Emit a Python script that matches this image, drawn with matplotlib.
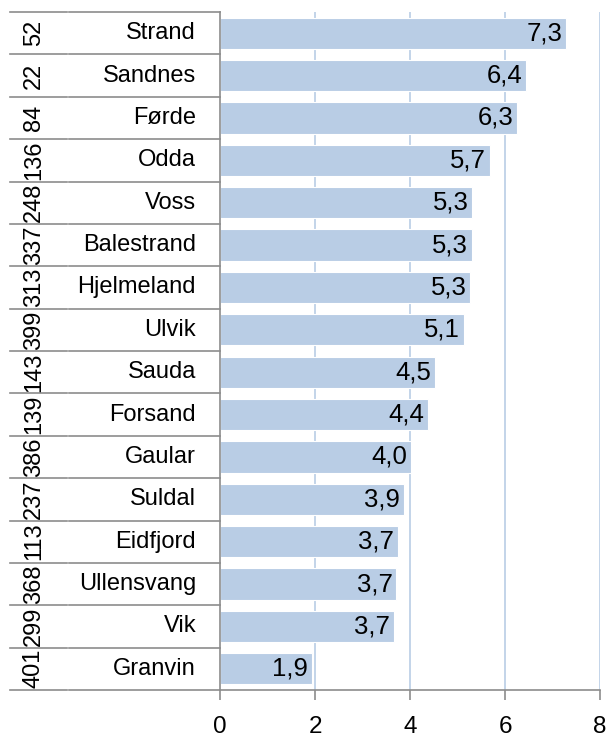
import numpy as np
import matplotlib
matplotlib.use("Agg")
import matplotlib.pyplot as plt
import matplotlib.transforms as mtransforms

names = ["Strand", "Sandnes", "Førde", "Odda", "Voss", "Balestrand", "Hjelmeland",
         "Ulvik", "Sauda", "Forsand", "Gaular", "Suldal", "Eidfjord", "Ullensvang",
         "Vik", "Granvin"]
codes = ["52", "22", "84", "136", "248", "337", "313", "399", "143", "139", "386",
         "237", "113", "368", "299", "401"]
values = [7.28, 6.44, 6.26, 5.68, 5.31, 5.30, 5.27, 5.13, 4.52, 4.38, 4.02, 3.87,
          3.74, 3.71, 3.66, 1.94]
xticks = [0, 2, 4, 6, 8]

bar_col = "#b9cde5"
grey = "#8c8c8c"

plt.rcParams['font.family'] = ['Liberation Sans', 'DejaVu Sans']
fig = plt.figure(figsize=(6.09, 7.40), dpi=100)
ax = fig.add_axes([220/609, 50/740, 380/609, 678/740])

y = np.arange(len(names))
ax.barh(y, values, height=0.74, color=bar_col, edgecolor="white", linewidth=0.8, zorder=2)
for yi, v in zip(y, values):
    ax.text(v - 0.08, yi, f"{v:.1f}".replace(".", ","), ha="right", va="center",
            fontsize=18.5, color="black", zorder=3)

ax.set_xlim(0, 8)
ax.set_ylim(len(names) - 0.5, -0.5)
ax.set_xticks(xticks)
ax.set_xticklabels([str(t) for t in xticks], fontsize=17.5)
ax.set_yticks([])
for t in xticks[1:]:
    ax.axvline(t, color=bar_col, linewidth=1.2, zorder=1)

for s in ["top", "right"]:
    ax.spines[s].set_visible(False)
for s in ["left", "bottom"]:
    ax.spines[s].set_color(grey)
    ax.spines[s].set_linewidth(1.2)
ax.tick_params(axis="x", direction="out", length=7, color=grey, width=1.2, pad=12)

trans = mtransforms.blended_transform_factory(ax.transAxes, ax.transData)
for b in np.arange(-0.5, len(names), 1.0):
    ax.plot([-0.553, -0.403], [b, b], color=grey, lw=1.2, transform=trans, clip_on=False)
    ax.plot([-0.398, 0], [b, b], color=grey, lw=1.2, transform=trans, clip_on=False)

for yi, n, c in zip(y, names, codes):
    ax.text(-0.063, yi, n, ha="right", va="center", fontsize=17, transform=trans)
    ax.text(-0.49, yi, c, ha="center", va="center", fontsize=17, rotation=90,
            transform=trans)

fig.savefig("out.png", dpi=100)
